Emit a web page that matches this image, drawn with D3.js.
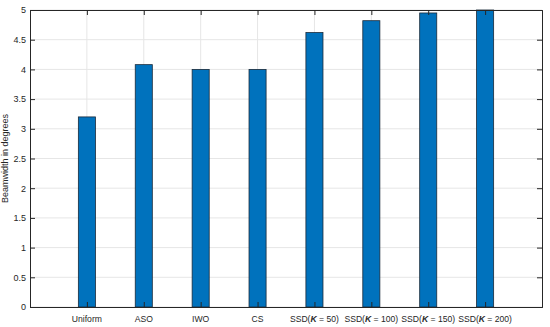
<!DOCTYPE html>
<html>
<head>
<meta charset="utf-8">
<script src="https://cdn.jsdelivr.net/npm/d3@7"></script>
<style>
  body { margin: 0; background: #fff; }
  svg text { font-family: "Liberation Sans", Arial, sans-serif; }
</style>
</head>
<body>
<div id="chart"></div>
<script>
const categories = ["Uniform", "ASO", "IWO", "CS", "SSD50", "SSD100", "SSD150", "SSD200"];
const kValues = [null, null, null, null, 50, 100, 150, 200];
const beamwidth = [3.2, 4.08, 4.0, 4.0, 4.62, 4.82, 4.95, 5.0];
const yTicks = [0, 0.5, 1, 1.5, 2, 2.5, 3, 3.5, 4, 4.5, 5];

const width = 550, height = 327;
const margin = { top: 10, right: 8, bottom: 20, left: 30 };
const innerW = width - margin.left - margin.right;
const innerH = height - margin.top - margin.bottom;

const svg = d3.select("#chart").append("svg")
  .attr("width", width)
  .attr("height", height);

const g = svg.append("g")
  .attr("transform", `translate(${margin.left},${margin.top})`);

// x positions 1..8 with limits 0..9 like matlab bar
const x = d3.scaleLinear().domain([0, categories.length + 1]).range([0, innerW]);
const y = d3.scaleLinear().domain([0, 5]).range([innerH, 0]);
const barW = (x(1) - x(0)) * 0.3;

// grid
g.selectAll(".hgrid").data(yTicks).enter().append("line")
  .attr("x1", 0).attr("x2", innerW)
  .attr("y1", d => y(d)).attr("y2", d => y(d))
  .attr("stroke", "#e6e6e6").attr("stroke-width", 1);
g.selectAll(".vgrid").data(categories).enter().append("line")
  .attr("x1", (d, i) => x(i + 1)).attr("x2", (d, i) => x(i + 1))
  .attr("y1", 0).attr("y2", innerH)
  .attr("stroke", "#e6e6e6").attr("stroke-width", 1);

// bars
g.selectAll(".bar").data(beamwidth).enter().append("rect")
  .attr("x", (d, i) => x(i + 1) - barW / 2)
  .attr("width", barW)
  .attr("y", d => y(Math.min(d, 5)))
  .attr("height", d => innerH - y(Math.min(d, 5)))
  .attr("fill", "#0072bd")
  .attr("stroke", "#1a2a3a")
  .attr("stroke-width", 0.8);

// axes (ticks pointing inward, box)
const tickColor = "#262626";
const axisLeft = d3.axisLeft(y).tickValues(yTicks).tickSize(-5).tickPadding(4)
  .tickFormat(d => d);
const axisRight = d3.axisRight(y).tickValues(yTicks).tickSize(-5).tickFormat("");
const xTickVals = categories.map((d, i) => i + 1);
const axisBottom = d3.axisBottom(x).tickValues(xTickVals).tickSize(-5).tickFormat("");
const axisTop = d3.axisTop(x).tickValues(xTickVals).tickSize(-5).tickFormat("");

function styleAxis(sel) {
  sel.selectAll("path").attr("stroke", tickColor).attr("stroke-width", 1);
  sel.selectAll("line").attr("stroke", tickColor);
  sel.selectAll("text").attr("fill", tickColor).style("font-size", "9px");
}

g.append("g").call(axisLeft).call(styleAxis);
g.append("g").attr("transform", `translate(${innerW},0)`).call(axisRight).call(styleAxis);
g.append("g").attr("transform", `translate(0,${innerH})`).call(axisBottom).call(styleAxis);
g.append("g").call(axisTop).call(styleAxis);

// x labels with italic K
const labels = g.selectAll(".xlab").data(categories).enter().append("text")
  .attr("x", (d, i) => x(i + 1))
  .attr("y", innerH + 15)
  .attr("text-anchor", "middle")
  .attr("fill", tickColor)
  .style("font-size", "8.6px");
labels.each(function (d, i) {
  const t = d3.select(this);
  if (kValues[i] === null) {
    t.text(d);
  } else {
    t.append("tspan").text("SSD(");
    t.append("tspan").attr("font-style", "italic").attr("font-weight", "bold").text("K");
    t.append("tspan").text(` = ${kValues[i]})`);
  }
});

// y label
svg.append("text")
  .attr("transform", `translate(8,${margin.top + innerH / 2}) rotate(-90)`)
  .attr("text-anchor", "middle")
  .attr("fill", tickColor)
  .style("font-size", "9px")
  .text("Beamwidth in degrees");
</script>
</body>
</html>
